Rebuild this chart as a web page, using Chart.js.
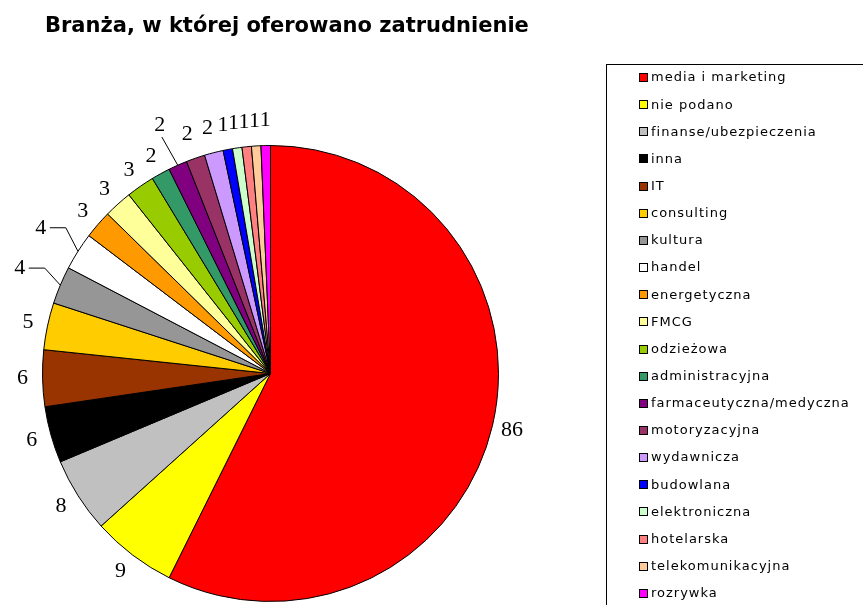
<!DOCTYPE html>
<html>
<head>
<meta charset="utf-8">
<script src="https://cdn.jsdelivr.net/npm/chart.js@4/dist/chart.umd.min.js"></script>
<style>
  html, body { margin: 0; padding: 0; background: #fff; overflow: hidden; }
  #wrap { width: 863px; height: 605px; position: relative; }
</style>
</head>
<body>
<div id="wrap"><canvas id="branzaChart" width="863" height="605"></canvas></div>
<script>
// ---- data ----
const tytul = 'Branża, w której oferowano zatrudnienie';
const branze = ['media i marketing', 'nie podano', 'finanse/ubezpieczenia', 'inna', 'IT',
  'consulting', 'kultura', 'handel', 'energetyczna', 'FMCG', 'odzieżowa',
  'administracyjna', 'farmaceutyczna/medyczna', 'motoryzacyjna', 'wydawnicza',
  'budowlana', 'elektroniczna', 'hotelarska', 'telekomunikacyjna', 'rozrywka'];
const liczby = [86, 9, 8, 6, 6, 5, 4, 4, 3, 3, 3, 2, 2, 2, 2, 1, 1, 1, 1, 1];
const kolory = ['#FF0000', '#FFFF00', '#C0C0C0', '#000000', '#993300',
  '#FFCC00', '#969696', '#FFFFFF', '#FF9900', '#FFFF99', '#99CC00',
  '#339966', '#800080', '#993366', '#CC99FF',
  '#0000FF', '#CCFFCC', '#FF8080', '#FFCC99', '#FF00FF'];

// title drawn by hand so it is not squeezed into the pie's width
const titlePlugin = {
  id: 'sheetTitle',
  afterDraw(chart) {
    const ctx = chart.ctx;
    ctx.save();
    ctx.font = 'bold 21px "DejaVu Sans", Verdana, sans-serif';
    ctx.fillStyle = '#000';
    ctx.textBaseline = 'middle';
    ctx.fillText(tytul, 45, 27);
    ctx.restore();
  }
};

// value labels around the pie (some pushed out with a leader line)
const labelPlugin = {
  id: 'valueLabels',
  afterDatasetsDraw(chart, args, opts) {
    const ctx = chart.ctx;
    const meta = chart.getDatasetMeta(0);
    ctx.save();
    ctx.font = opts.font;
    ctx.fillStyle = '#000';
    ctx.strokeStyle = '#000';
    ctx.lineWidth = 1;
    ctx.textAlign = 'center';
    ctx.textBaseline = 'middle';
    meta.data.forEach((arc, i) => {
      const mid = (arc.startAngle + arc.endAngle) / 2;
      const r = arc.outerRadius;
      const cos = Math.cos(mid), sin = Math.sin(mid);
      if (opts.leader.includes(i)) {
        const lx = arc.x + cos * (r + opts.leaderGap);
        const ly = arc.y + sin * (r + opts.leaderGap);
        // elbow line: label -> short horizontal -> slice edge
        const ex = arc.x + cos * r, ey = arc.y + sin * r;
        ctx.beginPath();
        if (Math.abs(sin) > 0.8) {
          ctx.moveTo(lx + 2, ly + 12);
          ctx.lineTo(ex, ey);
        } else {
          ctx.moveTo(lx + 9, ly);
          ctx.lineTo(lx + 25, ly);
          ctx.lineTo(ex, ey);
        }
        ctx.stroke();
        ctx.fillText(liczby[i], lx, ly);
      } else {
        const g = opts.gap + (-sin > 0.9 ? 5 : 0);
        const lx = arc.x + cos * (r + g);
        const ly = arc.y + sin * (r + g);
        ctx.fillText(liczby[i], lx, ly);
      }
    });
    ctx.restore();
  }
};

// boxed legend on the right, like the original sheet
const boxLegend = {
  id: 'boxLegend',
  afterDraw(chart) {
    const ctx = chart.ctx;
    const ds = chart.data.datasets[0];
    ctx.save();
    ctx.strokeStyle = '#000';
    ctx.lineWidth = 1;
    ctx.strokeRect(606.5, 64.5, 400, 600);
    ctx.font = '13px "DejaVu Sans"';
    ctx.letterSpacing = '1px';
    ctx.textBaseline = 'middle';
    ctx.fillStyle = '#000';
    chart.data.labels.forEach((lab, i) => {
      const y = 77.5 + i * 27.15;
      ctx.fillStyle = ds.backgroundColor[i];
      ctx.fillRect(639, Math.round(y - 4.5), 9, 9);
      ctx.strokeRect(639.5, Math.round(y - 4.5) + 0.5, 8, 8);
      ctx.fillStyle = '#000';
      ctx.fillText(lab, 651, y + 0.5);
    });
    ctx.restore();
  }
};

const ctx = document.getElementById('branzaChart').getContext('2d');
new Chart(ctx, {
  type: 'pie',
  data: {
    labels: branze,
    datasets: [{
      data: liczby,
      backgroundColor: kolory,
      borderColor: '#000',
      borderWidth: 1
    }]
  },
  options: {
    responsive: false,
    animation: false,
    layout: { padding: { left: 42, right: 364, top: 145, bottom: 3 } },
    plugins: {
      legend: { display: false },
      tooltip: { enabled: false },
      title: { display: false },
      valueLabels: {
        font: '22px "Liberation Serif", "Times New Roman", serif',
        gap: 20,
        leaderGap: 44,
        leader: [6, 7, 12]
      }
    }
  },
  plugins: [labelPlugin, boxLegend, titlePlugin]
});
</script>
</body>
</html>
